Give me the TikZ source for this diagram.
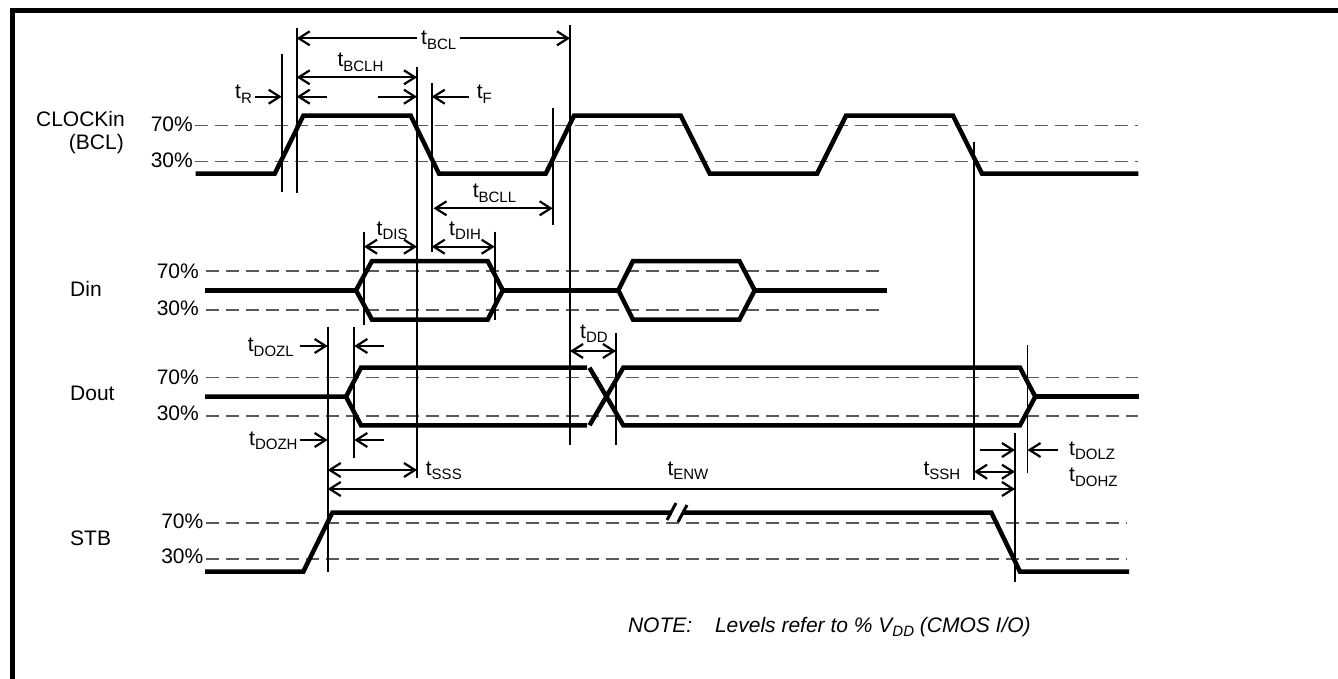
\documentclass[tikz,border=0pt]{standalone}
\usepackage{fontspec}
\setmainfont{Liberation Sans}
\usetikzlibrary{arrows.meta}
\newcommand\tsb[1]{t\raisebox{-4.5pt}{\fontsize{15}{15}\selectfont #1}}
\begin{document}
\begin{tikzpicture}[x=1pt,y=-1pt,
  lbl/.style={inner sep=0pt, font=\fontsize{21}{24}\selectfont},
  sig/.style={line width=4.5pt, line join=miter},
  lvl/.style={line width=1.6pt, black!65, dash pattern=on 13pt off 7pt},
  vline/.style={line width=1.8pt},
  dimline/.style={line width=2.2pt, {Straight Barb[length=11pt,width=14pt]}-{Straight Barb[length=11pt,width=14pt]}},
  ptr/.style={line width=2.2pt, -{Straight Barb[length=11pt,width=14pt]}},
]
\useasboundingbox (0,0) rectangle (1338,679);
% frame
\draw[line width=5pt] (10,10.5) -- (1338,10.5);
\draw[line width=5pt] (12.5,8) -- (12.5,679);

% signal names
\node[lbl, anchor=base east] (nclk) at (125,126.7) {CLOCKin};
\node[lbl, anchor=base east] (nbcl) at (124,149.3) {(BCL)};
\node[lbl, anchor=base west] (ndin) at (70,296.7) {Din};
\node[lbl, anchor=base west] (ndout) at (70,400.7) {Dout};
\node[lbl, anchor=base west] (nstb) at (70,545.7) {STB};

% level labels
\node[lbl, anchor=base east] (c70) at (193,132) {70\%};
\node[lbl, anchor=base east] (c30) at (193,167.3) {30\%};
\node[lbl, anchor=base east] (d70) at (199,278.3) {70\%};
\node[lbl, anchor=base east] (d30) at (199,315) {30\%};
\node[lbl, anchor=base east] (o70) at (199,384) {70\%};
\node[lbl, anchor=base east] (o30) at (199,420) {30\%};
\node[lbl, anchor=base east] (s70) at (203.5,528.3) {70\%};
\node[lbl, anchor=base east] (s30) at (203.5,563.3) {30\%};

% level lines
\draw[lvl] (195,125.7) -- (1137.5,125.7);
\draw[lvl] (195,161.7) -- (1137.5,161.7);
\draw[lvl] (206,270.7) -- (886,270.7);
\draw[lvl] (206,310) -- (886,310);
\draw[lvl] (206,377.3) -- (1138,377.3);
\draw[lvl] (206,415.7) -- (1138,415.7);
\draw[lvl] (206,522.7) -- (1127,522.7);
\draw[lvl] (206,559) -- (1127,559);

% signals
\draw[sig] (195.7,173.7) -- (274.7,173.7) -- (303.3,115.7) -- (410.7,115.7) -- (439,173.7)
  -- (545.7,173.7) -- (574,115.7) -- (680.8,115.7) -- (709.8,173.7) -- (817,173.7)
  -- (846,115.7) -- (953,115.7) -- (982,173.7) -- (1138.4,173.7);

\draw[sig] (205.3,290.3) -- (356,290.3);
\draw[sig] (356,290.3) -- (372,261) -- (487.7,261) -- (502.8,290.3) -- (487.7,319.7) -- (372,319.7) -- cycle;
\draw[sig] (502.8,290.3) -- (618.3,290.3);
\draw[sig] (618.3,290.3) -- (633,261) -- (739.4,261) -- (754.7,290.3) -- (739.4,319.7) -- (633,319.7) -- cycle;
\draw[sig] (754.7,290.3) -- (886.8,290.3);

\draw[sig] (205,396.7) -- (346,396.7) -- (361,367.7) -- (587,367.7);
\draw[sig] (346,396.7) -- (361,425.3) -- (587,425.3);
\draw[sig] (589.5,367.7) -- (623.3,425.3) -- (1020,425.3) -- (1035.3,396.7) -- (1020,367.7) -- (623.3,367.7) -- (589.5,425.3);
\draw[sig] (1035.3,396.7) -- (1138.6,396.7);

\draw[sig] (205,571.7) -- (303.3,571.7) -- (332.3,512.7) -- (991.4,512.7) -- (1020,571.7) -- (1129,571.7);
% break mark
\fill[white] (672,505) rectangle (682,520);
\draw[line width=3pt] (667,520) -- (676,503);
\draw[line width=3pt] (678,522) -- (687,505);

% vertical reference lines
\draw[vline] (281.7,54) -- (281.7,191.7);
\draw[vline] (296.7,27.7) -- (296.7,193);
\draw[vline] (417,66.7) -- (417,478);
\draw[vline] (431.7,83) -- (431.7,251.7);
\draw[vline] (552.7,107.7) -- (552.7,225);
\draw[vline] (570,25) -- (570,445);
\draw[vline] (974,141.7) -- (974,480);
\draw[vline] (364,231.7) -- (364,325);
\draw[vline] (494.7,231.7) -- (494.7,320);
\draw[vline] (616,333) -- (616,445);
\draw[vline] (327.7,326.7) -- (327.7,571.7);
\draw[vline] (354.3,326.7) -- (354.3,457.7);
\draw[vline] (1015,433) -- (1015,581.7);
\draw[vline] (1027.5,345) -- (1027.5,473.3);

% timing labels
\node[lbl, anchor=base west, fill=white, inner xsep=4pt] (lbcl) at (417,45) {\tsb{BCL}};
\node[lbl, anchor=base west] (lbclh) at (337.3,67) {\tsb{BCLH}};
\node[lbl, anchor=base west] (lr) at (235,99) {\tsb{R}};
\node[lbl, anchor=base west] (lf) at (476.7,99) {\tsb{F}};
\node[lbl, anchor=base west] (lbcll) at (472.6,198) {\tsb{BCLL}};
\node[lbl, anchor=base west] (ldis) at (376.5,235) {\tsb{DIS}};
\node[lbl, anchor=base west] (ldih) at (449,235) {\tsb{DIH}};
\node[lbl, anchor=base west] (ldd) at (580,338.3) {\tsb{DD}};
\node[lbl, anchor=base west] (ldozl) at (247.7,351.7) {\tsb{DOZL}};
\node[lbl, anchor=base west] (ldozh) at (249,445) {\tsb{DOZH}};
\node[lbl, anchor=base west] (lsss) at (425.7,475) {\tsb{SSS}};
\node[lbl, anchor=base west] (lenw) at (667.3,475) {\tsb{ENW}};
\node[lbl, anchor=base west] (lssh) at (923.3,475) {\tsb{SSH}};
\node[lbl, anchor=base west] (ldolz) at (1069,455) {\tsb{DOLZ}};
\node[lbl, anchor=base west] (ldohz) at (1069,481.7) {\tsb{DOHZ}};

% dimension arrows
\draw[ptr] (lbcl.west |- 0,38.3) -- (296.7,38.3);
\draw[ptr] (lbcl.east |- 0,38.3) -- (570,38.3);
\draw[dimline] (296.7,77.3) -- (417,77.3);
\draw[ptr] (327,96.7) -- (296.7,96.7);
\draw[ptr] (378,96.7) -- (417,96.7);
\draw[ptr] (lr.east |- 0,96.7) ++(3,0) -- (281.7,96.7);
\draw[ptr] (469,96.7) -- (431.7,96.7);
\draw[dimline] (433.5,208.3) -- (552.7,208.3);
\draw[dimline] (364,246.7) -- (417,246.7);
\draw[dimline] (431.7,246.7) -- (494.7,246.7);
\draw[dimline] (570,351) -- (616,351);
\draw[ptr] (300,346) -- (327.7,346);
\draw[ptr] (384,346) -- (354.3,346);
\draw[ptr] (300,440) -- (327.7,440);
\draw[ptr] (384,440) -- (354.3,440);
\draw[dimline] (327.7,470) -- (417,470);
\draw[dimline] (327.7,489) -- (1015,489);
\draw[dimline] (974,471.7) -- (1015,471.7);
\draw[ptr] (980,450) -- (1015,450);
\draw[ptr] (1057.6,450) -- (1027.5,450);

% note
\node[lbl, anchor=base west, font=\fontsize{21}{24}\selectfont\itshape] (note) at (627.8,632)
  {NOTE:\hspace{17pt} Levels refer to \% V\raisebox{-4.5pt}{\fontsize{15}{15}\selectfont DD} (CMOS I/O)};
\end{tikzpicture}
\end{document}
